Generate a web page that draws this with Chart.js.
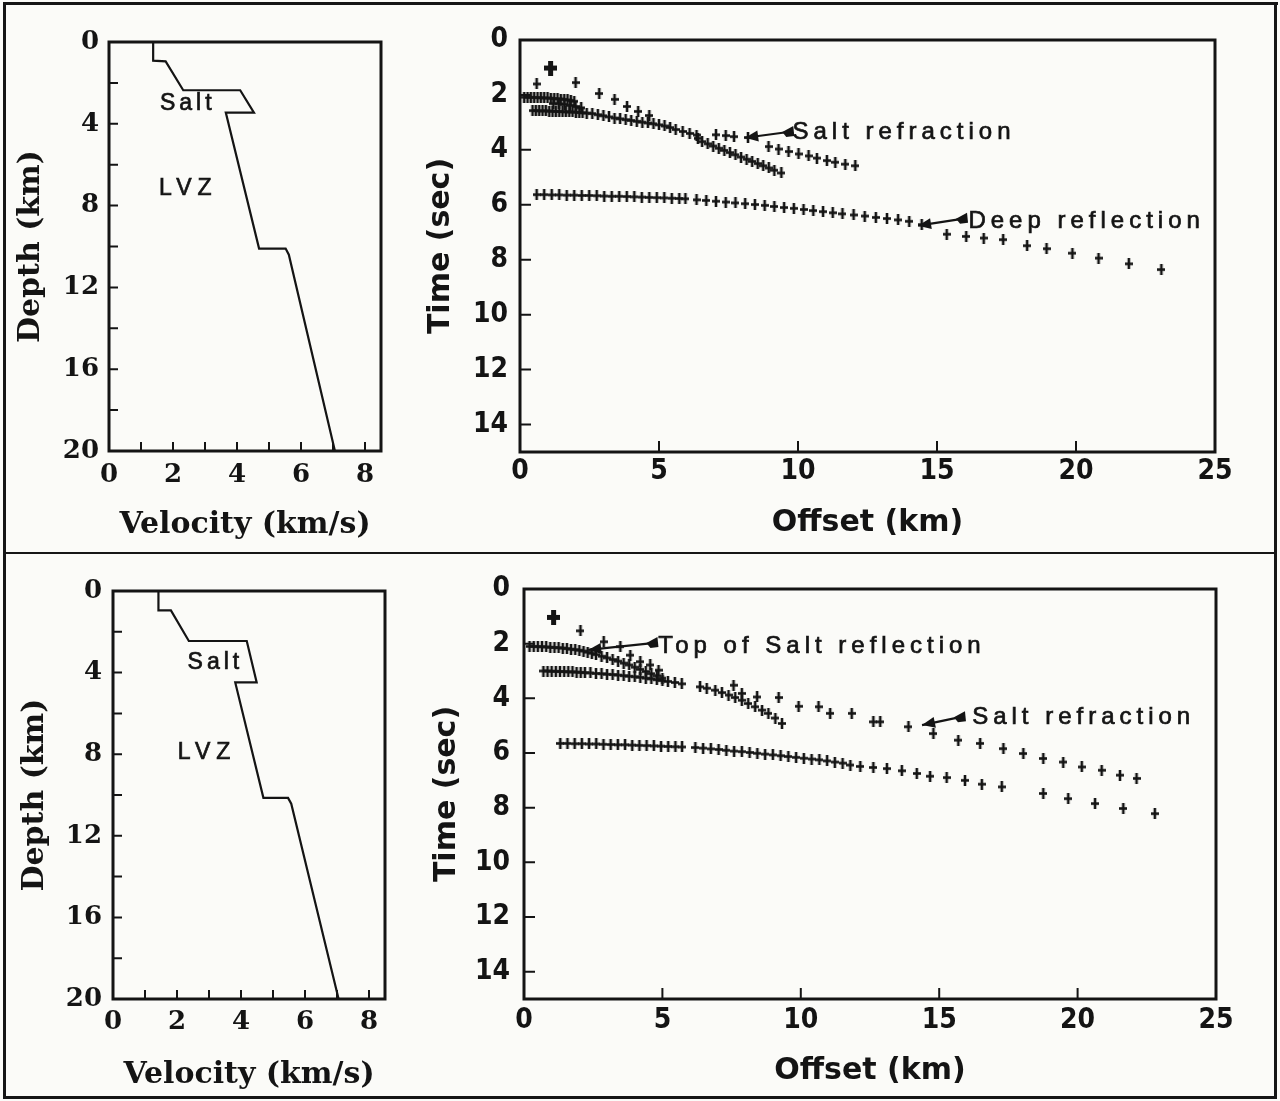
<!DOCTYPE html>
<html>
<head>
<meta charset="utf-8">
<title>Velocity models and travel-time curves</title>
<script src="https://cdn.jsdelivr.net/npm/chart.js@4.4.1/dist/chart.umd.min.js"></script>
<style>
  html, body { margin: 0; padding: 0; background: #fbfbf8; }
  #page { position: relative; width: 1280px; height: 1101px; overflow: hidden; background: #fbfbf8; }
  canvas { position: absolute; }
  .rule { position: absolute; background: #161616; }
</style>
</head>
<body>
<div id="page">
  <canvas id="velTop" width="420" height="553" style="left:0;top:0;width:420px;height:553px"></canvas>
  <canvas id="ttTop" width="860" height="553" style="left:420px;top:0;width:860px;height:553px"></canvas>
  <canvas id="velBot" width="420" height="548" style="left:0;top:553px;width:420px;height:548px"></canvas>
  <canvas id="ttBot" width="860" height="548" style="left:420px;top:553px;width:860px;height:548px"></canvas>

  <div class="rule" style="left:3px;top:2px;width:1275px;height:3px"></div>
  <div class="rule" style="left:3px;top:2px;width:3px;height:1097px"></div>
  <div class="rule" style="left:1274px;top:2px;width:3px;height:1097px"></div>
  <div class="rule" style="left:3px;top:1096px;width:1274px;height:3px"></div>
  <div class="rule" style="left:3px;top:552px;width:1274px;height:2px"></div>
</div>
<script>
  const INK = '#141414';

  // ---- axis ticks
  const velocityTicks = [0, 2, 4, 6, 8];
  const depthTicks = [0, 4, 8, 12, 16, 20];
  const velocityMarks = [1, 2, 3, 4, 5, 6, 7, 8];
  const depthMarks = [2, 4, 6, 8, 10, 12, 14, 16, 18];
  const offsetTicks = [0, 5, 10, 15, 20, 25];
  const timeTicks = [0, 2, 4, 6, 8, 10, 12, 14];
  const offsetMarks = [5, 10, 15, 20];
  const timeMarks = [2, 4, 6, 8, 10, 12, 14];

  // ---- velocity models (km/s against depth km)
  const topVelocity = [1.38, 1.38, 1.77, 2.32, 4.10, 4.53, 3.65, 4.69, 5.52, 5.62, 7.06];
  const topDepth    = [0, 0.91, 0.95, 2.36, 2.36, 3.45, 3.45, 10.1, 10.1, 10.4, 20];
  const botVelocity = [1.42, 1.42, 1.81, 2.37, 4.18, 4.49, 3.82, 4.70, 5.47, 5.57, 7.05];
  const botDepth    = [0, 0.95, 0.95, 2.45, 2.45, 4.48, 4.48, 10.14, 10.14, 10.43, 20];

  // ---- travel times, top panel (offset km, time s)
  const topBigX = [1.1];
  const topBigT = [1.02];
  const topDirectX = [0.6, 2.0, 2.85, 3.4, 3.85, 4.25, 4.65];
  const topDirectT = [1.6, 1.55, 1.95, 2.16, 2.42, 2.6, 2.75];
  const topRow1X = [0.15, 0.27, 0.39, 0.51, 0.63, 0.75, 0.87, 0.99, 1.11, 1.23, 1.35, 1.47, 1.59, 1.71, 1.83, 1.95];
  const topRow1T = [2.08, 2.08, 2.09, 2.09, 2.10, 2.10, 2.11, 2.11, 2.12, 2.13, 2.14, 2.15, 2.16, 2.18, 2.20, 2.23];
  const topRow2X = [1.2, 1.4, 1.6, 1.8, 2.0, 2.2];
  const topRow2T = [2.32, 2.33, 2.35, 2.38, 2.42, 2.47];
  const topSaltX = [0.45, 0.57, 0.69, 0.81, 0.93, 1.05, 1.17, 1.29, 1.41, 1.53, 1.65, 1.77, 1.89, 2.01, 2.13, 2.25, 2.4,
    2.6, 2.8, 3.0, 3.2, 3.4, 3.6, 3.8, 4.0, 4.2, 4.4, 4.6, 4.8, 5.0, 5.2, 5.4, 5.6, 5.85, 6.1, 6.35, 6.4,
    6.55, 6.75, 6.95, 7.15, 7.35, 7.55, 7.75, 7.95, 8.15, 8.35, 8.55, 8.75, 8.95, 9.15, 9.4];
  const topSaltT = [2.57, 2.57, 2.58, 2.58, 2.58, 2.59, 2.59, 2.60, 2.60, 2.61, 2.61, 2.62, 2.62, 2.63, 2.64, 2.65, 2.66,
    2.68, 2.72, 2.76, 2.80, 2.84, 2.87, 2.90, 2.93, 2.96, 2.99, 3.02, 3.05, 3.09, 3.13, 3.19, 3.26, 3.33, 3.40, 3.46, 3.58,
    3.70, 3.78, 3.86, 3.94, 4.02, 4.10, 4.18, 4.26, 4.34, 4.42, 4.50, 4.58, 4.66, 4.74, 4.84];
  const topRefrX = [7.05, 7.4, 7.7, 8.2, 8.94, 9.3, 9.66, 10.02, 10.38, 10.68, 11.04, 11.34, 11.7, 12.06];
  const topRefrT = [3.45, 3.48, 3.52, 3.55, 3.88, 3.97, 4.06, 4.15, 4.22, 4.30, 4.39, 4.45, 4.52, 4.58];
  const topDeepX = [0.6, 0.87, 1.14, 1.41, 1.68, 1.95, 2.22, 2.49, 2.76, 3.03, 3.3, 3.57, 3.84, 4.11, 4.38, 4.65, 4.92, 5.19, 5.46, 5.73, 5.95,
    6.35, 6.7, 7.05, 7.4, 7.75, 8.1, 8.45, 8.8, 9.15, 9.5, 9.85, 10.2, 10.55, 10.9, 11.25, 11.6, 12.0, 12.4, 12.8, 13.2, 13.6, 14.0, 14.45,
    15.35, 16.05, 16.68, 17.38, 18.24, 18.94, 19.87, 20.81, 21.9, 23.07];
  const topDeepT = [5.63, 5.63, 5.64, 5.64, 5.65, 5.65, 5.66, 5.66, 5.67, 5.68, 5.69, 5.69, 5.70, 5.71, 5.72, 5.73, 5.74, 5.75, 5.76, 5.77, 5.78,
    5.82, 5.84, 5.87, 5.90, 5.93, 5.96, 5.99, 6.02, 6.06, 6.10, 6.13, 6.17, 6.21, 6.25, 6.29, 6.33, 6.37, 6.41, 6.46, 6.50, 6.55, 6.60, 6.72,
    7.07, 7.15, 7.21, 7.27, 7.49, 7.60, 7.76, 7.94, 8.15, 8.36];

  // ---- travel times, bottom panel
  const botBigX = [1.07];
  const botBigT = [1.04];
  const botDirectX = [2.04, 2.88, 3.48, 3.84, 4.2, 4.56, 4.86];
  const botDirectT = [1.53, 1.93, 2.11, 2.42, 2.66, 2.78, 2.97];
  const botTopSaltX = [0.2, 0.35, 0.5, 0.65, 0.8, 0.95, 1.1, 1.25, 1.4, 1.55, 1.7, 1.85, 2.0, 2.15, 2.3, 2.45, 2.6, 2.8,
    3.0, 3.2, 3.4, 3.6, 3.8, 4.0, 4.2, 4.4, 4.6, 4.8, 5.0];
  const botTopSaltT = [2.10, 2.10, 2.11, 2.11, 2.12, 2.13, 2.14, 2.15, 2.16, 2.18, 2.20, 2.22, 2.24, 2.27, 2.31, 2.35, 2.40, 2.46,
    2.52, 2.58, 2.64, 2.71, 2.78, 2.86, 2.94, 3.02, 3.10, 3.18, 3.26];
  const botBaseX = [0.7, 0.85, 1.0, 1.15, 1.3, 1.45, 1.6, 1.75, 1.9, 2.05, 2.2, 2.4, 2.6, 2.8, 3.0, 3.2, 3.4, 3.6, 3.8, 4.0,
    4.2, 4.4, 4.6, 4.8, 5.0, 5.2, 5.45, 5.7, 6.36, 6.6, 6.91, 7.15, 7.39, 7.63, 7.87, 8.1, 8.35, 8.6, 8.83, 9.08, 9.32];
  const botBaseT = [3.00, 3.00, 3.01, 3.01, 3.02, 3.02, 3.03, 3.03, 3.04, 3.05, 3.06, 3.07, 3.09, 3.10, 3.12, 3.13, 3.15, 3.17, 3.19, 3.21,
    3.23, 3.26, 3.29, 3.32, 3.35, 3.38, 3.42, 3.47, 3.58, 3.63, 3.70, 3.79, 3.88, 3.97, 4.07, 4.19, 4.31, 4.43, 4.55, 4.72, 4.92];
  const botRefrX = [7.57, 7.87, 8.42, 9.2, 9.92, 10.64, 11.06, 11.84, 12.62, 12.87, 13.89, 14.79, 15.69, 16.48, 17.32, 18.04,
    18.76, 19.48, 20.15, 20.87, 21.53, 22.13];
  const botRefrT = [3.52, 3.82, 3.95, 3.97, 4.29, 4.31, 4.55, 4.55, 4.86, 4.86, 5.04, 5.29, 5.53, 5.65, 5.84, 6.02,
    6.20, 6.33, 6.51, 6.63, 6.81, 6.93];
  const botDeepX = [1.31, 1.57, 1.83, 2.09, 2.35, 2.61, 2.87, 3.13, 3.39, 3.65, 3.91, 4.17, 4.43, 4.69, 4.95, 5.21, 5.47, 5.71,
    6.19, 6.47, 6.75, 7.03, 7.31, 7.59, 7.87, 8.15, 8.43, 8.71, 8.99, 9.27, 9.55, 9.83, 10.11, 10.39, 10.67, 10.95, 11.23, 11.51,
    11.79, 12.15, 12.62, 13.11, 13.65, 14.19, 14.67, 15.27, 15.93, 16.54, 17.26, 18.76, 19.66, 20.63, 21.65, 22.79];
  const botDeepT = [5.65, 5.65, 5.66, 5.66, 5.67, 5.67, 5.68, 5.69, 5.70, 5.70, 5.71, 5.72, 5.73, 5.74, 5.75, 5.76, 5.77, 5.78,
    5.80, 5.82, 5.85, 5.87, 5.90, 5.93, 5.95, 5.98, 6.01, 6.04, 6.07, 6.10, 6.13, 6.16, 6.19, 6.22, 6.25, 6.29, 6.33, 6.37,
    6.44, 6.49, 6.53, 6.57, 6.65, 6.75, 6.85, 6.90, 7.00, 7.14, 7.24, 7.48, 7.67, 7.85, 8.03, 8.22];

  // ---- fonts
  const leftTickFont = { family: '"DejaVu Serif", serif', size: 26, weight: 'bold' };
  const leftTitleFont = { family: '"DejaVu Serif", serif', size: 30, weight: 'bold' };
  const rightTickFont = { family: '"DejaVu Sans", sans-serif', size: 28, weight: 'bold condensed' };
  const rightTitleFont = { family: '"DejaVu Sans", sans-serif', size: 30, weight: 'bold' };

  const pts = (xs, ys) => xs.map((x, i) => ({ x, y: ys[i] }));

  function crossMark(w, h, lw) {
    const c = document.createElement('canvas');
    c.width = w; c.height = h;
    const g = c.getContext('2d');
    g.fillStyle = INK;
    g.fillRect((w - lw) / 2, 0, lw, h);
    g.fillRect(0, (h - lw) / 2, w, lw);
    return c;
  }
  const plus = crossMark(8, 11, 2.6);
  const bigPlus = crossMark(13, 15, 5);

  // box round the plot area and the inward tick marks
  function makeFrame(xMarks, yMarks, len) {
    return {
      id: 'frame',
      afterDraw(chart) {
        const { ctx, chartArea: a } = chart;
        const x = chart.scales.x, y = chart.scales.y;
        ctx.save();
        ctx.strokeStyle = INK;
        ctx.lineWidth = 3;
        ctx.strokeRect(a.left, a.top, a.right - a.left, a.bottom - a.top);
        ctx.lineWidth = 2;
        ctx.beginPath();
        xMarks.forEach(v => {
          const p = x.getPixelForValue(v);
          ctx.moveTo(p, a.bottom); ctx.lineTo(p, a.bottom - len);
        });
        yMarks.forEach(v => {
          const p = y.getPixelForValue(v);
          ctx.moveTo(a.left, p); ctx.lineTo(a.left + len, p);
        });
        ctx.stroke();
        ctx.restore();
      }
    };
  }

  // text labels and arrows, placed in data units
  function makeNotes(notes) {
    return {
      id: 'notes',
      afterDatasetsDraw(chart) {
        const { ctx } = chart;
        const x = chart.scales.x, y = chart.scales.y;
        ctx.save();
        ctx.fillStyle = INK;
        ctx.strokeStyle = INK;
        notes.forEach(n => {
          if (n.tip) {
            const x1 = x.getPixelForValue(n.tip[0]), y1 = y.getPixelForValue(n.tip[1]);
            const x2 = x.getPixelForValue(n.tail[0]), y2 = y.getPixelForValue(n.tail[1]);
            const ang = Math.atan2(y1 - y2, x1 - x2);
            ctx.lineWidth = 2.2;
            ctx.beginPath(); ctx.moveTo(x2, y2); ctx.lineTo(x1, y1); ctx.stroke();
            ctx.beginPath();
            ctx.moveTo(x1, y1);
            ctx.lineTo(x1 - 13 * Math.cos(ang) + 5.5 * Math.sin(ang), y1 - 13 * Math.sin(ang) - 5.5 * Math.cos(ang));
            ctx.lineTo(x1 - 13 * Math.cos(ang) - 5.5 * Math.sin(ang), y1 - 13 * Math.sin(ang) + 5.5 * Math.cos(ang));
            ctx.closePath(); ctx.fill();
            ctx.beginPath();
            ctx.moveTo(x2 - 6, y2);
            ctx.lineTo(x2 + 5, y2 - 6);
            ctx.lineTo(x2 + 6, y2 + 4);
            ctx.lineTo(x2 - 2, y2 + 5);
            ctx.closePath(); ctx.fill();
          }
          ctx.font = n.font;
          ctx.letterSpacing = n.spacing;
          ctx.textAlign = n.align;
          ctx.textBaseline = 'middle';
          ctx.lineWidth = 0.7;
          const px = x.getPixelForValue(n.at[0]), py = y.getPixelForValue(n.at[1]);
          ctx.fillText(n.text, px, py);
          ctx.strokeText(n.text, px, py);
        });
        ctx.restore();
      }
    };
  }

  function axis(o) {
    return {
      type: 'linear', min: o.min, max: o.max, reverse: !!o.reverse,
      afterBuildTicks: s => { s.ticks = o.ticks.map(v => ({ value: v })); },
      afterFit: s => { if (o.height) s.height = o.height; if (o.width) s.width = o.width; },
      grid: { display: false, drawTicks: false },
      border: { display: false },
      ticks: { color: INK, font: o.tickFont, padding: o.pad, autoSkip: false, maxRotation: 0 },
      title: { display: true, text: o.title, color: INK, font: o.titleFont, padding: o.titlePad }
    };
  }

  function velocityChart(id, vel, dep, box, notes) {
    return new Chart(document.getElementById(id), {
      type: 'scatter',
      data: {
        datasets: [{ data: pts(vel, dep), showLine: true, borderColor: INK, borderWidth: 2.2, pointRadius: 0, tension: 0 }]
      },
      options: {
        responsive: false, animation: false, events: [],
        layout: { padding: { top: box.top, right: box.right, left: 0, bottom: 0 } },
        plugins: { legend: { display: false }, tooltip: { enabled: false } },
        scales: {
          x: axis({ min: 0, max: 8.5, ticks: velocityTicks, height: box.xh, tickFont: leftTickFont, pad: box.xpad,
            title: 'Velocity (km/s)', titleFont: leftTitleFont, titlePad: { top: 0, bottom: box.xtpad } }),
          y: axis({ min: 0, max: 20, reverse: true, ticks: depthTicks, width: box.yw, tickFont: leftTickFont, pad: box.ypad,
            title: 'Depth (km)', titleFont: leftTitleFont, titlePad: { top: box.ytpad, bottom: 0 } })
        }
      },
      plugins: [makeFrame(velocityMarks, depthMarks, 9), makeNotes(notes)]
    });
  }

  function travelChart(id, series, box, notes) {
    return new Chart(document.getElementById(id), {
      type: 'scatter',
      data: {
        datasets: series.map(s => ({ data: pts(s[0], s[1]), pointStyle: s[2], pointRadius: 5, showLine: false }))
      },
      options: {
        responsive: false, animation: false, events: [],
        layout: { padding: { top: box.top, right: box.right, left: 0, bottom: 0 } },
        plugins: { legend: { display: false }, tooltip: { enabled: false } },
        scales: {
          x: axis({ min: 0, max: 25, ticks: offsetTicks, height: box.xh, tickFont: rightTickFont, pad: box.xpad,
            title: 'Offset (km)', titleFont: rightTitleFont, titlePad: { top: 0, bottom: box.xtpad } }),
          y: axis({ min: 0, max: 15, reverse: true, ticks: timeTicks, width: box.yw, tickFont: rightTickFont, pad: box.ypad,
            title: 'Time (sec)', titleFont: rightTitleFont, titlePad: { top: box.ytpad, bottom: 0 } })
        }
      },
      plugins: [makeFrame(offsetMarks, timeMarks, 11), makeNotes(notes)]
    });
  }

  const noteFont = '24px "Liberation Sans", Arial, sans-serif';
  const layerFont = '23px "Liberation Sans", Arial, sans-serif';

  velocityChart('velTop', topVelocity, topDepth,
    { top: 42, right: 39, xh: 102, yw: 109, xpad: 9, ypad: 10, xtpad: 10, ytpad: 13 },
    [
      { text: 'Salt', at: [2.46, 3.02], font: layerFont, spacing: '4px', align: 'center' },
      { text: 'LVZ', at: [2.48, 7.17], font: layerFont, spacing: '6px', align: 'center' }
    ]);

  velocityChart('velBot', botVelocity, botDepth,
    { top: 38, right: 35, xh: 102, yw: 113, xpad: 8, ypad: 11, xtpad: 8, ytpad: 17 },
    [
      { text: 'Salt', at: [3.2, 3.53], font: layerFont, spacing: '4px', align: 'center' },
      { text: 'LVZ', at: [2.94, 7.9], font: layerFont, spacing: '6px', align: 'center' }
    ]);

  travelChart('ttTop', [
      [topDeepX, topDeepT, plus],
      [topRow1X, topRow1T, plus],
      [topRow2X, topRow2T, plus],
      [topSaltX, topSaltT, plus],
      [topRefrX, topRefrT, plus],
      [topDirectX, topDirectT, plus],
      [topBigX, topBigT, bigPlus]
    ],
    { top: 40, right: 65, xh: 101, yw: 100, xpad: 3, ypad: 12, xtpad: 12, ytpad: 3 },
    [
      { text: 'Salt refraction', at: [9.8, 3.38], tip: [8.1, 3.56], tail: [9.65, 3.35], font: noteFont, spacing: '5px', align: 'left' },
      { text: 'Deep reflection', at: [16.13, 6.62], tip: [14.32, 6.76], tail: [15.9, 6.51], font: noteFont, spacing: '5px', align: 'left' }
    ]);

  travelChart('ttBot', [
      [botDeepX, botDeepT, plus],
      [botTopSaltX, botTopSaltT, plus],
      [botBaseX, botBaseT, plus],
      [botRefrX, botRefrT, plus],
      [botDirectX, botDirectT, plus],
      [botBigX, botBigT, bigPlus]
    ],
    { top: 36, right: 64, xh: 102, yw: 104, xpad: 5, ypad: 14, xtpad: 12, ytpad: 9 },
    [
      { text: 'Top of Salt reflection', at: [4.85, 2.11], tip: [2.32, 2.23], tail: [4.64, 1.98], font: noteFont, spacing: '5px', align: 'left' },
      { text: 'Salt refraction', at: [16.19, 4.68], tip: [14.38, 4.98], tail: [15.75, 4.69], font: noteFont, spacing: '5px', align: 'left' }
    ]);
</script>
</body>
</html>
